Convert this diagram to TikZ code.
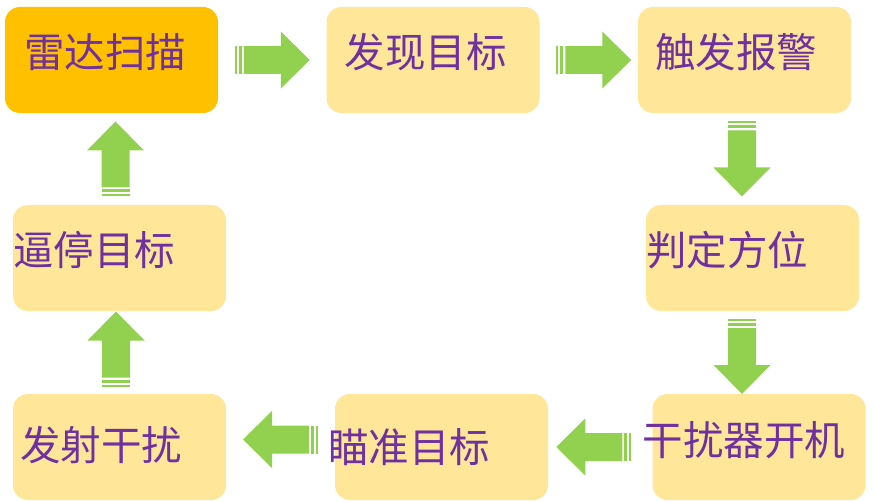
\documentclass[tikz,border=0pt]{standalone}
\usepackage{fontspec}
\newfontfamily\cjk{Noto Sans CJK SC}
\usetikzlibrary{calc}
\definecolor{boxorange}{HTML}{FFC000}
\definecolor{boxlight}{HTML}{FFE699}
\definecolor{txtpurple}{HTML}{7030A0}
\definecolor{arrgreen}{HTML}{92D050}

\begin{document}
\begin{tikzpicture}[x=1pt,y=-1pt]

\tikzset{
    stepbox/.style = {fill=boxlight, rounded corners=15pt, minimum width=213pt,
        minimum height=106pt, inner sep=0pt},
    stepname/.style = {anchor=west, inner sep=0pt, text=txtpurple,
        font=\cjk\fontsize{40.5}{45}\selectfont},
    stripearrow/.pic = {
        \fill[arrgreen] (-37.5,-14) rectangle (-35.5,14);
        \fill[arrgreen] (-33.5,-14) rectangle (-30.5,14);
        \fill[arrgreen] (-28.5,-14) -- (8.5,-14) -- (8.5,-28.5) -- (37.5,0)
            -- (8.5,28.5) -- (8.5,14) -- (-28.5,14) -- cycle;
    }
}

\useasboundingbox (0,0) rectangle (874,502);

% boxes
\node[stepbox, fill=boxorange] (scan) at (111.5,60) {};
\node[stepbox] (find)   at (433,60)    {};
\node[stepbox] (alarm)  at (744.5,60)  {};
\node[stepbox] (locate) at (752.5,258) {};
\node[stepbox] (jammer) at (759,447)   {};
\node[stepbox] (aim)    at (441.5,447) {};
\node[stepbox] (fire)   at (119.5,447) {};
\node[stepbox] (stop)   at (119.5,258) {};

% texts
\node[stepname] (scan-t)   at ([xshift=19pt,yshift=8pt]scan.west)    {雷达扫描};
\node[stepname] (find-t)   at ([xshift=18pt,yshift=8pt]find.west)    {发现目标};
\node[stepname] (alarm-t)  at ([xshift=17pt,yshift=8pt]alarm.west)   {触发报警};
\node[stepname] (locate-t) at ([xshift=0pt,yshift=8pt]locate.west)   {判定方位};
\node[stepname] (jammer-t) at ([xshift=-10pt,yshift=7pt]jammer.west) {干扰器开机};
\node[stepname] (aim-t)    at ([xshift=-7pt]aim.west)                {瞄准目标};
\node[stepname] (fire-t)   at ([xshift=7pt,yshift=2pt]fire.west)     {发射干扰};
\node[stepname] (stop-t)   at ([xshift=0pt,yshift=8pt]stop.west)     {逼停目标};

% arrows
\pic at ($(scan.east)!.5!(find.west)$) {stripearrow};
\pic at ([xshift=5pt]$(find.east)!.5!(alarm.west)$) {stripearrow};
\pic[rotate=-90] at ([xshift=-6.5pt]$(alarm.south)!.5!(locate.north)$) {stripearrow};
\pic[rotate=-90] at ([xshift=-13.75pt,yshift=-4pt]$(locate.south)!.5!(jammer.north)$) {stripearrow};
\pic[rotate=180] at ([xshift=-6.5pt]$(jammer.west)!.5!(aim.east)$) {stripearrow};
\pic[rotate=180] at ([yshift=7.5pt]$(aim.west)!.5!(fire.east)$) {stripearrow};
\pic[rotate=90] at ([xshift=-3.5pt,yshift=3.5pt]$(fire.north)!.5!(stop.south)$) {stripearrow};
\pic[rotate=90] at ($(stop.north)!.5!(scan.south)$) {stripearrow};

\end{tikzpicture}
\end{document}
